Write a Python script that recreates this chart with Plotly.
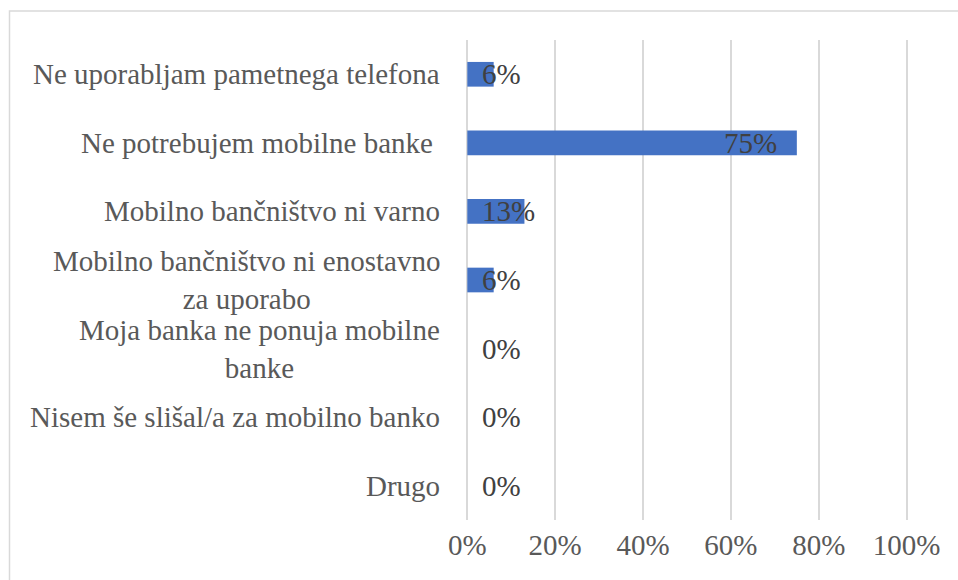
import plotly.graph_objects as go

categories = [
    "Ne uporabljam pametnega telefona",
    "Ne potrebujem mobilne banke ",
    "Mobilno bančništvo ni varno",
    "Mobilno bančništvo ni enostavno<br>za uporabo",
    "Moja banka ne ponuja mobilne<br>banke",
    "Nisem še slišal/a za mobilno banko",
    "Drugo",
]
values = [6, 75, 13, 6, 0, 0, 0]
tick_values = [0, 20, 40, 60, 80, 100]
tick_labels = ["0%", "20%", "40%", "60%", "80%", "100%"]

FONT = "Times New Roman"
FS = 29
LABEL_COLOR = "#595959"
DATA_COLOR = "#404040"

fig = go.Figure()
fig.add_trace(go.Bar(
    x=values, y=list(range(len(categories))), orientation="h",
    marker=dict(color="#4472C4", line=dict(width=0)),
    hoverinfo="skip",
))

annotations = []
for i, (c, v) in enumerate(zip(categories, values)):
    annotations.append(dict(
        x=0, xref="paper", y=i, yref="y", text=c, showarrow=False,
        xanchor="right", yanchor="middle", align="center", xshift=-24,
        font=dict(family=FONT, size=FS, color=LABEL_COLOR),
    ))
    if v >= 20:
        annotations.append(dict(
            x=v, xref="x", y=i, yref="y", text=f"{v}%", showarrow=False,
            xanchor="right", yanchor="middle", xshift=-18,
            font=dict(family=FONT, size=FS, color=DATA_COLOR),
        ))
    else:
        annotations.append(dict(
            x=0, xref="x", y=i, yref="y", text=f"{v}%", showarrow=False,
            xanchor="left", yanchor="middle", xshift=13,
            font=dict(family=FONT, size=FS, color=DATA_COLOR),
        ))

fig.update_layout(
    width=958, height=580,
    margin=dict(l=466, r=50, t=40, b=60),
    paper_bgcolor="white", plot_bgcolor="white",
    showlegend=False,
    bargap=0.64,
    annotations=annotations,
    font=dict(family=FONT),
    xaxis=dict(
        range=[-0.3, 100.3], tickvals=tick_values, ticktext=tick_labels,
        showgrid=True, gridcolor="#d9d9d9", gridwidth=1.5,
        zeroline=False, showline=False, ticks="",
        tickfont=dict(family=FONT, size=FS, color=LABEL_COLOR),
        ticklabelstandoff=5, fixedrange=True,
    ),
    yaxis=dict(
        range=[len(categories) - 0.5, -0.5],
        showticklabels=False, showgrid=False, zeroline=False,
        showline=False, ticks="", fixedrange=True,
    ),
    shapes=[dict(
        type="rect", xref="paper", yref="paper",
        x0=(9.5 - 466) / 442, x1=2.0,
        y0=-1.0, y1=(520 - 11) / 480,
        line=dict(color="#d9d9d9", width=1.5), fillcolor="rgba(0,0,0,0)",
        layer="below",
    )],
)

fig.write_html("out.html")
